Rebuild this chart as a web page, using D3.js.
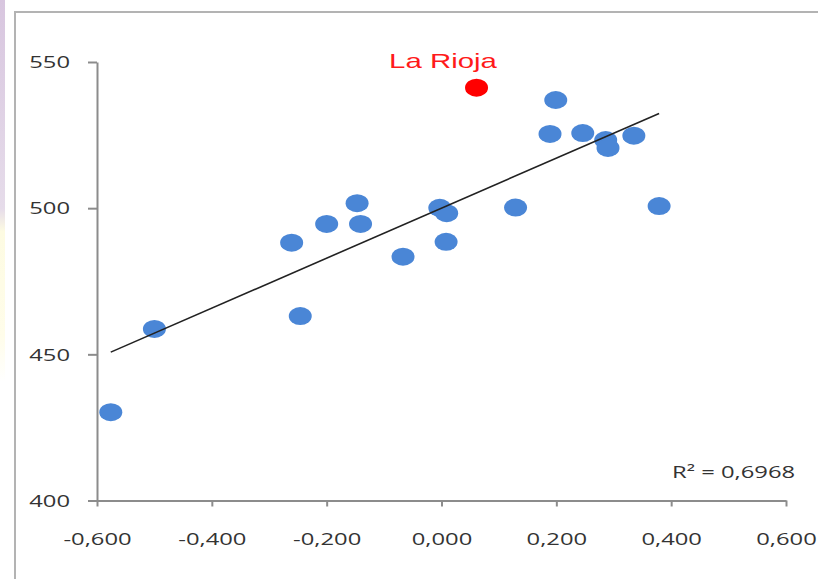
<!DOCTYPE html>
<html>
<head>
<meta charset="utf-8">
<script src="https://cdn.jsdelivr.net/npm/d3@7"></script>
<style>
  body { margin: 0; background: #fff; }
  svg { display: block; }
</style>
</head>
<body>
<div id="chart"></div>
<script>
// values
const xValues = [-0.576, -0.500, -0.261, -0.246, -0.200, -0.147, -0.141, -0.067, -0.003, 0.009,
                 0.008, 0.129, 0.189, 0.199, 0.246, 0.286, 0.290, 0.335, 0.379];
const yValues = [430.2, 458.7, 488.2, 463.1, 494.6, 501.7, 494.6, 483.4, 500.1, 498.3,
                 488.5, 500.2, 525.4, 537.0, 525.7, 523.3, 520.6, 524.8, 500.7];
const highlight = { name: "La Rioja", x: 0.061, y: 541.2 };
const trend = { slope: 85.5, intercept: 500.0, r2: "0,6968" };
const xTicks = [-0.6, -0.4, -0.2, 0, 0.2, 0.4, 0.6];
const yTicks = [400, 450, 500, 550];

const width = 818;
const height = 579;
const stretch = 1.4; // picture is stretched sideways
const font = "'Open Sans', sans-serif";

const locale = d3.formatLocale({ decimal: ",", thousands: ".", grouping: [3], currency: ["", ""], minus: "-" });
const fmt = locale.format(".3f");

const svg = d3.select("#chart")
  .append("svg")
  .attr("width", width)
  .attr("height", height);

// faint strip at the left edge
const grad = svg.append("defs").append("linearGradient")
  .attr("id", "strip").attr("x1", 0).attr("x2", 0).attr("y1", 0).attr("y2", 1);
grad.append("stop").attr("offset", "0%").attr("stop-color", "#d8c6df");
grad.append("stop").attr("offset", "36%").attr("stop-color", "#e6dcea");
grad.append("stop").attr("offset", "40%").attr("stop-color", "#fdfbe2");
grad.append("stop").attr("offset", "58%").attr("stop-color", "#fffdea");
grad.append("stop").attr("offset", "66%").attr("stop-color", "#ffffff");
svg.append("rect")
  .attr("x", 0).attr("y", 0)
  .attr("width", 5).attr("height", height)
  .attr("fill", "url(#strip)");

// chart frame (runs off right and bottom)
svg.append("path")
  .attr("d", `M15,${height} V12 H${width}`)
  .attr("fill", "none")
  .attr("stroke", "#b3b3b3")
  .attr("stroke-width", 2);

const x = d3.scaleLinear().domain([-0.6, 0.6]).range([97, 786]);
const y = d3.scaleLinear().domain([400, 550]).range([500.5, 62]);

const xAxis = svg.append("g")
  .attr("transform", `translate(0,${y(400)})`)
  .call(d3.axisBottom(x).tickValues(xTicks).tickFormat(fmt).tickSize(6).tickSizeOuter(0));

const yAxis = svg.append("g")
  .attr("transform", `translate(${x(-0.6)},0)`)
  .call(d3.axisLeft(y).tickValues(yTicks).tickFormat(d3.format("d")).tickSize(9).tickSizeOuter(0));

[xAxis, yAxis].forEach(g => {
  g.select(".domain").attr("stroke", "#8c8c8c").attr("stroke-width", 2);
  g.selectAll(".tick line").attr("stroke", "#8c8c8c").attr("stroke-width", 2);
  g.selectAll("text")
    .attr("fill", "#333")
    .style("font-family", font)
    .style("font-size", "17px");
});

xAxis.selectAll("text")
  .attr("y", 0).attr("dy", 0)
  .attr("transform", `translate(0,44) scale(${stretch},1)`);

yAxis.selectAll("text")
  .attr("x", 0).attr("dy", "0.34em")
  .attr("transform", `translate(-27,0) scale(${stretch},1)`);

// trend line over the span of the data
const points = xValues.map((v, i) => ({ x: v, y: yValues[i] }));
const [xMin, xMax] = d3.extent(xValues);

svg.selectAll(".dot")
  .data(points)
  .enter()
  .append("ellipse")
  .attr("class", "dot")
  .attr("cx", d => x(d.x))
  .attr("cy", d => y(d.y))
  .attr("rx", 11.5)
  .attr("ry", 9)
  .attr("fill", "#4a86d6");

svg.append("line")
  .attr("x1", x(xMin))
  .attr("y1", y(trend.intercept + trend.slope * xMin))
  .attr("x2", x(xMax))
  .attr("y2", y(trend.intercept + trend.slope * xMax))
  .attr("stroke", "#222")
  .attr("stroke-width", 1.6);

svg.append("ellipse")
  .attr("cx", x(highlight.x))
  .attr("cy", y(highlight.y))
  .attr("rx", 11.5)
  .attr("ry", 9)
  .attr("fill", "#ff0000");

svg.append("text")
  .attr("transform", `translate(443,68) scale(${stretch},1)`)
  .attr("text-anchor", "middle")
  .attr("fill", "#ff1a1a")
  .style("font-family", "'Liberation Sans', Arial, sans-serif")
  .style("font-size", "21px")
  .text(highlight.name);

svg.append("text")
  .attr("transform", `translate(672,478) scale(${stretch},1)`)
  .attr("fill", "#333")
  .style("font-family", font)
  .style("font-size", "17px")
  .text(`R² = ${trend.r2}`);
</script>
</body>
</html>
